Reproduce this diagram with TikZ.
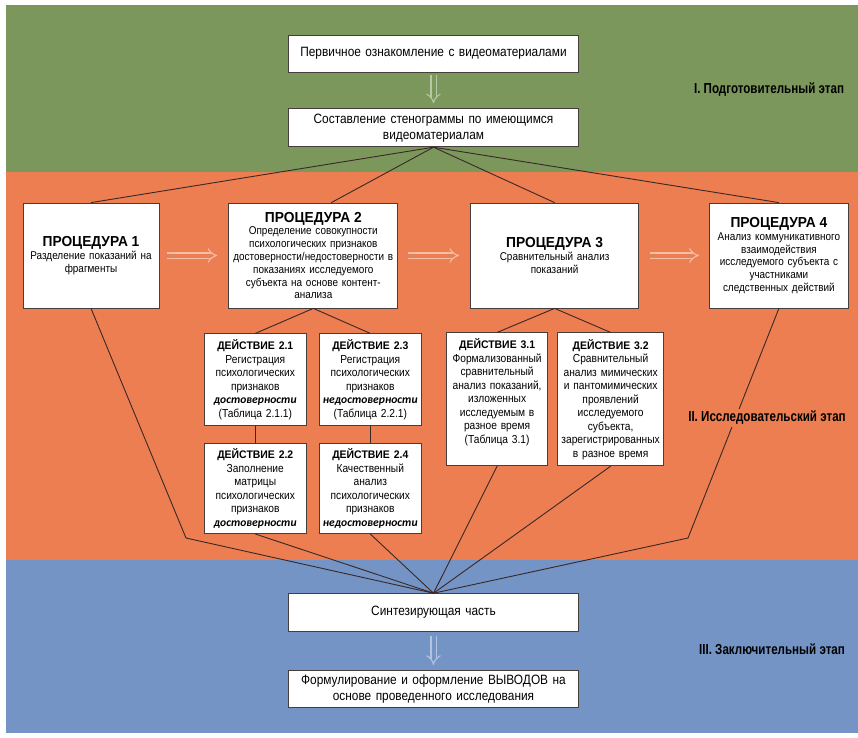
\documentclass[tikz,border=0pt]{standalone}
\usepackage{fontspec}
\setmainfont[FakeStretch=0.88]{Liberation Sans}
\newfontfamily\headfont[FakeStretch=0.95]{Liberation Sans}
\newfontfamily\stagefont[FakeStretch=0.8]{Liberation Sans}
\newfontfamily\signfont{Carlito}
\usepackage{xcolor}
\usepackage{tikz}
\usetikzlibrary{shapes, arrows, arrows.meta, calc, positioning}

\definecolor{stageone}{RGB}{124,151,92}
\definecolor{stagetwo}{RGB}{236,126,82}
\definecolor{stagethree}{RGB}{115,148,197}
\definecolor{boxedge}{RGB}{70,62,58}
\definecolor{linkcol}{RGB}{58,40,38}

\newcommand{\proctitle}[1]{{\headfont\bfseries\fontsize{14.5}{16}\selectfont #1}}
\newcommand{\acttitle}[1]{{\headfont\bfseries\fontsize{11}{13}\selectfont #1}}
\newcommand{\signword}[1]{{\signfont\bfseries\itshape #1}}

\begin{document}
\begin{tikzpicture}[x=1pt, y=-1pt]
    % Styles
    \tikzstyle{mainbox} = [rectangle, draw=boxedge, line width=0.8pt, fill=white, inner sep=3pt, align=center, text width=284pt, font=\fontsize{13.5}{16}\selectfont]
    \tikzstyle{procbox} = [rectangle, draw=boxedge, line width=0.8pt, fill=white, inner sep=3pt, align=center, minimum height=105pt, font=\fontsize{11.3}{12.8}\selectfont]
    \tikzstyle{actbox} = [rectangle, draw=boxedge, line width=0.8pt, fill=white, inner sep=3pt, align=center, font=\fontsize{11.6}{13.5}\selectfont]
    \tikzstyle{link} = [draw=linkcol, line width=0.9pt]
    \tikzstyle{flowarrow} = [double distance=4pt, line width=1.1pt, -{Implies}]
    \tikzstyle{stagelabel} = [inner sep=2pt, font=\stagefont\bfseries\fontsize{14.5}{16}\selectfont]

    % Background bands
    \useasboundingbox (0,0) rectangle (858,737);
    \fill[white] (0,0) rectangle (858,737);
    \fill[stageone] (6,5) rectangle (858,172);
    \fill[stagetwo] (6,172) rectangle (858,560);
    \fill[stagethree] (6,560) rectangle (858,733);

    % Nodes: stage I
    \node [mainbox, minimum height=37pt] (first) at (433.5,53.5) {Первичное ознакомление с видеоматериалами};
    \node [mainbox, minimum height=38pt, below=36pt of first] (steno) {Составление стенограммы по имеющимся\\видеоматериалам};

    % Nodes: procedures
    \node [procbox, text width=130pt] (p1) at (91,255.5) {\proctitle{ПРОЦЕДУРА 1}\\Разделение показаний на\\фрагменты};
    \node [procbox, text width=163pt, right=69pt of p1] (p2) {\proctitle{ПРОЦЕДУРА 2}\\Определение совокупности\\психологических признаков\\достоверности/недостоверности в\\показаниях исследуемого\\субъекта на основе контент-\\анализа};
    \node [procbox, text width=162pt, right=72pt of p2] (p3) {\proctitle{ПРОЦЕДУРА 3}\\Сравнительный анализ\\показаний};
    \node [procbox, text width=133pt, right=70pt of p3] (p4) {\proctitle{ПРОЦЕДУРА 4}\\Анализ коммуникативного\\взаимодействия\\исследуемого субъекта с\\участниками\\следственных действий};

    % Nodes: actions
    \node [actbox, text width=96pt, minimum height=92pt, below=25pt of p2, xshift=-58pt] (d21) {\acttitle{ДЕЙСТВИЕ 2.1}\\Регистрация\\психологических\\признаков\\\signword{достоверности}\\(Таблица 2.1.1)};
    \node [actbox, text width=96pt, minimum height=92pt, below=25pt of p2, xshift=57pt] (d23) {\acttitle{ДЕЙСТВИЕ 2.3}\\Регистрация\\психологических\\признаков\\\signword{недостоверности}\\(Таблица 2.2.1)};
    \node [actbox, text width=96pt, minimum height=90pt, below=17pt of d21] (d22) {\acttitle{ДЕЙСТВИЕ 2.2}\\Заполнение\\матрицы\\психологических\\признаков\\\signword{достоверности}};
    \node [actbox, text width=96pt, minimum height=90pt, below=17pt of d23] (d24) {\acttitle{ДЕЙСТВИЕ 2.4}\\Качественный\\анализ\\психологических\\признаков\\\signword{недостоверности}};
    \node [actbox, text width=95pt, minimum height=133pt, text depth=111pt, below=24pt of p3, xshift=-57.5pt] (d31) {\acttitle{ДЕЙСТВИЕ 3.1}\\Формализованный\\сравнительный\\анализ показаний,\\изложенных\\исследуемым в\\разное время\\(Таблица 3.1)};
    \node [actbox, text width=100pt, minimum height=133pt, below=24pt of p3, xshift=56pt] (d32) {\acttitle{ДЕЙСТВИЕ 3.2}\\Сравнительный\\анализ мимических\\и пантомимических\\проявлений\\исследуемого\\субъекта,\\зарегистрированных\\в разное время};

    % Nodes: stage III
    \node [mainbox, minimum height=38pt, below=446pt of steno] (synth) {Синтезирующая часть};
    \node [mainbox, minimum height=37pt, below=38pt of synth] (concl) {Формулирование и оформление ВЫВОДОВ на\\основе проведенного исследования};

    \coordinate (kinkl) at (186,538);
    \coordinate (kinkr) at (688,538);

    % Paths: stage I
    \draw [flowarrow, draw=white!45!stageone, double=stageone, shorten <=3pt, shorten >=5pt] (first) -- (steno);
    \draw [link] (steno.south) -- (p1.north);
    \draw [link] (steno.south) -- ([xshift=18pt]p2.north);
    \draw [link] (steno.south) -- (p3.north);
    \draw [link] (steno.south) -- (p4.north);

    % Paths: procedures
    \draw [flowarrow, draw=white!50!stagetwo, double=stagetwo, shorten <=8pt, shorten >=11pt] (p1) -- (p2);
    \draw [flowarrow, draw=white!50!stagetwo, double=stagetwo, shorten <=10pt, shorten >=11pt] (p2) -- (p3);
    \draw [flowarrow, draw=white!50!stagetwo, double=stagetwo, shorten <=11pt, shorten >=10pt] (p3) -- (p4);

    % Paths: actions
    \draw [link] (p2.south) -- (d21.north);
    \draw [link] (p2.south) -- (d23.north);
    \draw [link] (d21) -- (d22);
    \draw [link] (d23) -- (d24);
    \draw [link] (p3.south) -- (d31.north);
    \draw [link] (p3.south) -- (d32.north);

    % Paths: into the synthesis
    \draw [link] (p1.south) -- (kinkl) -- (synth.north);
    \draw [link] (d22.south) -- (synth.north);
    \draw [link] (d24.south) -- (synth.north);
    \draw [link] (d31.south) -- (synth.north);
    \draw [link] (d32.south) -- (synth.north);
    \draw [link] (p4.south) -- (kinkr) -- (synth.north);
    \draw [flowarrow, draw=white!45!stagethree, double=stagethree, shorten <=4pt, shorten >=5pt] (synth) -- (concl);

    % Stage labels
    \node [stagelabel, fill=stageone] (lab1) at (769,90) {I. Подготовительный этап};
    \node [stagelabel, fill=stagetwo] (lab2) at (767,418) {II. Исследовательский этап};
    \node [stagelabel, fill=stagethree] (lab3) at (772,649) {III. Заключительный этап};
\end{tikzpicture}
\end{document}
